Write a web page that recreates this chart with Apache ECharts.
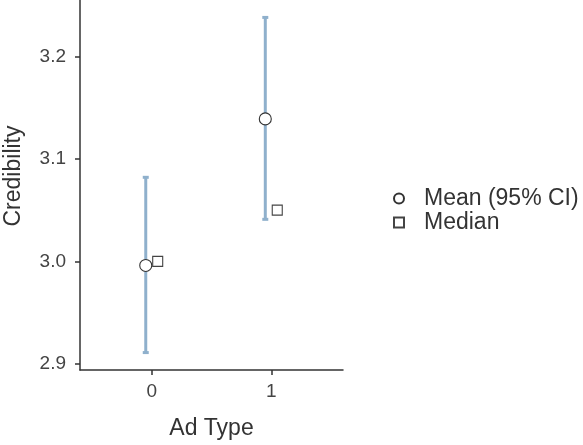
<!DOCTYPE html>
<html>
<head>
<meta charset="utf-8">
<script src="https://cdn.jsdelivr.net/npm/echarts@6/dist/echarts.min.js"></script>
<style>
  html, body { margin: 0; padding: 0; background: #fff; }
  #chart { width: 583px; height: 445px; }
</style>
</head>
<body>
<div id="chart"></div>
<script>
// Ad type groups and credibility summaries
const adTypes = [0, 1];
const meanValues = [2.996, 3.139];
const ciLower = [2.911, 3.041];
const ciUpper = [3.082, 3.238];
const medianValues = [3.0, 3.05];
const yTicks = [2.9, 3.0, 3.1, 3.2];

// small horizontal dodge so mean and median sit side by side
const dodge = 0.05;

const font = 'Liberation Sans, Arial, sans-serif';
const axisColor = '#333';
const labelColor = '#444';
const barColor = '#8fb0cc';

const chart = echarts.init(document.getElementById('chart'), null, { renderer: 'canvas' });

const ciData = adTypes.map((t, i) => [t - dodge, ciLower[i], ciUpper[i]]);
const meanData = adTypes.map((t, i) => [t - dodge, meanValues[i]]);
const medianData = adTypes.map((t, i) => [t + dodge, medianValues[i]]);

chart.setOption({
  animation: false,
  backgroundColor: '#fff',
  grid: { left: 80, top: 0, width: 263, bottom: 72, containLabel: false },
  xAxis: {
    type: 'value',
    min: -0.6,
    max: 1.6,
    name: 'Ad Type',
    nameLocation: 'middle',
    nameGap: 47,
    nameTextStyle: { fontFamily: font, fontSize: 23, color: axisColor },
    splitLine: { show: false },
    axisLine: { show: true, onZero: false, lineStyle: { color: axisColor, width: 1.5 } },
    axisTick: { show: true, length: 5, customValues: adTypes, lineStyle: { color: axisColor, width: 1.5 } },
    axisLabel: { customValues: adTypes, fontFamily: font, fontSize: 19, color: labelColor, margin: 12,
                 formatter: v => String(Math.round(v)) }
  },
  yAxis: {
    type: 'value',
    min: 2.894,
    max: 3.255,
    name: 'Credibility',
    nameLocation: 'middle',
    nameGap: 55,
    nameRotate: 90,
    nameTextStyle: { fontFamily: font, fontSize: 23, color: axisColor, padding: [0, 0, 0, 18] },
    splitLine: { show: false },
    axisLine: { show: true, onZero: false, lineStyle: { color: axisColor, width: 1.5 } },
    axisTick: { show: true, length: 5, customValues: yTicks, lineStyle: { color: axisColor, width: 1.5 } },
    axisLabel: { customValues: yTicks, fontFamily: font, fontSize: 19, color: labelColor, margin: 14,
                 formatter: v => v.toFixed(1) }
  },
  legend: {
    orient: 'vertical',
    left: 388,
    top: 182,
    itemWidth: 10,
    itemHeight: 10,
    itemGap: 1,
    textStyle: { fontFamily: font, fontSize: 23, color: axisColor, padding: [0, 0, 0, 15] },
    data: [
      { name: 'Mean (95% CI)', icon: 'circle' },
      { name: 'Median', icon: 'rect' }
    ]
  },
  series: [
    {
      type: 'custom',
      name: 'ci',
      data: ciData,
      z: 1,
      renderItem: function (params, api) {
        const x = api.value(0);
        const lo = api.coord([x, api.value(1)]);
        const hi = api.coord([x, api.value(2)]);
        const cap = 3;
        const style = { stroke: barColor, lineWidth: 3 };
        return {
          type: 'group',
          children: [
            { type: 'line', shape: { x1: lo[0], y1: lo[1], x2: hi[0], y2: hi[1] }, style },
            { type: 'line', shape: { x1: lo[0] - cap, y1: lo[1], x2: lo[0] + cap, y2: lo[1] }, style },
            { type: 'line', shape: { x1: hi[0] - cap, y1: hi[1], x2: hi[0] + cap, y2: hi[1] }, style }
          ]
        };
      }
    },
    {
      type: 'scatter',
      name: 'Mean (95% CI)',
      data: meanData,
      symbol: 'circle',
      symbolSize: 12,
      z: 3,
      itemStyle: { color: '#fff', borderColor: axisColor, borderWidth: 1.1, opacity: 1 }
    },
    {
      type: 'scatter',
      name: 'Median',
      data: medianData,
      symbol: 'rect',
      symbolSize: 10,
      z: 3,
      itemStyle: { color: '#fff', borderColor: '#444', borderWidth: 1.1, opacity: 1 }
    }
  ]
});
</script>
</body>
</html>
